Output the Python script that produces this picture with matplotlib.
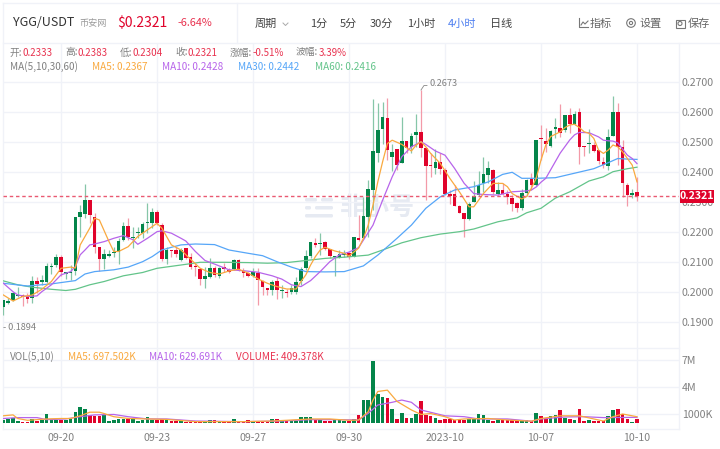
#!/usr/bin/env python3
"""YGG/USDT 4h candlestick chart with moving averages and volume panel."""

import matplotlib
matplotlib.use('Agg')
import matplotlib.pyplot as plt
from matplotlib.patches import Rectangle, Circle, FancyBboxPatch

plt.rcParams['font.family'] = ['Noto Sans CJK SC', 'DejaVu Sans']

opens = [.1949, .1965, .1974, .1986, .1990, .1985, .1979, .2037, .2032, .2035, .2085, .2090, .2118, .2060, .2062, .2070, .2249,
         .2259, .2307, .2251, .2149, .2110, .2120, .2129, .2135, .2174, .2220, .2181, .2196, .2198, .2229, .2229, .2268, .2224,
         .2109, .2140, .2140, .2107, .2146, .2116, .2087, .2077, .2045, .2049, .2081, .2054, .2083, .2074, .2076, .2107, .2071,
         .2063, .2054, .2063, .2037, .2014, .2007, .2037, .2003, .2001, .2001, .2001, .2038, .2079, .2121, .2164, .2161, .2167,
         .2144, .2116, .2116, .2124, .2129, .2118, .2181, .2179, .2251, .2340, .2465, .2543, .2579, .2451, .2476, .2429, .2504,
         .2484, .2525, .2534, .2479, .2423, .2412, .2432, .2406, .2326, .2326, .2287, .2264, .2243, .2301, .2325, .2362, .2390,
         .2406, .2328, .2340, .2326, .2312, .2296, .2279, .2329, .2377, .2357, .2515, .2505, .2488, .2545, .2548, .2540, .2590,
         .2560, .2601, .2486, .2493, .2490, .2473, .2433, .2421, .2520, .2600, .2484, .2356, .2325, .2333]
highs = [.1974, .1979, .2001, .2018, .1994, .1996, .2054, .2051, .2057, .2096, .2096, .2127, .2124, .2068, .2090, .2249, .2290,
         .2359, .2307, .2265, .2149, .2143, .2140, .2149, .2179, .2235, .2246, .2218, .2216, .2235, .2298, .2279, .2274, .2229,
         .2149, .2140, .2151, .2146, .2146, .2129, .2096, .2077, .2083, .2112, .2087, .2085, .2096, .2079, .2109, .2109, .2079,
         .2068, .2079, .2079, .2041, .2014, .2041, .2051, .2024, .2009, .2024, .2049, .2085, .2140, .2168, .2181, .2196, .2170,
         .2144, .2120, .2140, .2140, .2135, .2185, .2256, .2318, .2373, .2643, .2629, .2632, .2647, .2495, .2476, .2584, .2504,
         .2529, .2595, .2673, .2479, .2462, .2476, .2465, .2412, .2340, .2356, .2290, .2265, .2299, .2370, .2403, .2451, .2436,
         .2410, .2367, .2365, .2340, .2325, .2301, .2345, .2376, .2396, .2507, .2557, .2546, .2540, .2579, .2626, .2590, .2612,
         .2602, .2614, .2488, .2545, .2501, .2475, .2451, .2542, .2653, .2631, .2506, .2362, .2345, .2383]
lows = [.1924, .1960, .1971, .1985, .1954, .1965, .1963, .1996, .2024, .2029, .2060, .2085, .2054, .2043, .2040, .2056, .2185,
        .2246, .2229, .2129, .2070, .2076, .2116, .2118, .2094, .2171, .2174, .2146, .2179, .2179, .2196, .2212, .2224, .2105,
        .2094, .2116, .2116, .2105, .2109, .2077, .2054, .2024, .2012, .2046, .2051, .2046, .2068, .2063, .2074, .2071, .2051,
        .2049, .2051, .1957, .1990, .1990, .1990, .1976, .1979, .1985, .1994, .1994, .2024, .2074, .2112, .2149, .2124, .2140,
        .2112, .2055, .2112, .2116, .2109, .2116, .2171, .2179, .2184, .2273, .2434, .2495, .2440, .2403, .2406, .2429, .2462,
        .2462, .2484, .2451, .2306, .2384, .2395, .2392, .2323, .2292, .2287, .2262, .2182, .2240, .2299, .2321, .2334, .2365,
        .2328, .2323, .2325, .2295, .2270, .2267, .2273, .2320, .2340, .2355, .2440, .2468, .2485, .2513, .2518, .2532, .2529,
        .2557, .2426, .2453, .2462, .2467, .2426, .2415, .2406, .2520, .2423, .2317, .2286, .2312, .2304]
closes = [.1974, .1970, .1996, .1987, .1983, .1977, .2037, .2027, .2040, .2087, .2088, .2118, .2068, .2068, .2068, .2249, .2268,
          .2307, .2257, .2149, .2109, .2127, .2127, .2135, .2170, .2220, .2185, .2185, .2199, .2227, .2232, .2268, .2229, .2109,
          .2140, .2137, .2127, .2140, .2113, .2083, .2083, .2044, .2054, .2081, .2057, .2079, .2076, .2068, .2107, .2074, .2065,
          .2054, .2068, .2041, .2016, .2007, .2035, .2005, .2007, .1996, .2012, .2035, .2077, .2121, .2165, .2158, .2165, .2144,
          .2120, .2120, .2127, .2129, .2118, .2183, .2174, .2254, .2345, .2470, .2540, .2582, .2473, .2467, .2423, .2504, .2481,
          .2521, .2534, .2479, .2421, .2419, .2432, .2409, .2326, .2321, .2287, .2265, .2243, .2295, .2321, .2356, .2392, .2412,
          .2332, .2340, .2328, .2317, .2295, .2279, .2329, .2374, .2357, .2507, .2509, .2493, .2537, .2549, .2529, .2589, .2559,
          .2592, .2482, .2482, .2497, .2471, .2437, .2422, .2515, .2599, .2484, .2364, .2323, .2329, .2321]
volumes = [.33, .44, .6, .22, .15, .15, .5, .26, .3, 1.0, .37, .37, .37, .37, .5, 1.26, 1.8, 1.55, .9, .8, .8, .9, .25, .3, .5,
           .5, .45, .45, .2, .3, .65, .37, .3, .5, .3, .2, .2, .2, .15, .15, .12, .12, .12, .37, .3, .15, .12, .12, .4, .15, .12,
           .3, .15, .12, .12, .15, .45, .5, .3, .2, .2, .2, .65, .7, .7, .3, .33, .2, .2, .3, .3, .2, .2, .45, .9, 2.55, 2.55,
           6.9, 3.2, 2.9, 2.75, 1.6, .45, 1.1, .55, .55, .95, 2.45, .85, .8, .55, .37, .4, .5, .33, .3, .33, .45, .45, .95, .85,
           .3, .22, .37, .37, .3, .3, .2, .3, .3, .2, 1.1, .8, .45, .8, .85, 1.4, .6, .45, .3, 1.55, .2, .37, .2, .2, .2, .8,
           1.5, 1.55, .95, .45, .1, .41]

ma5_idx = [0, 2, 4, 6, 8, 10, 12, 14, 15, 16, 18, 19, 20, 22, 23, 24, 26, 28, 30, 32, 33, 35, 37, 39, 41, 43, 45, 47, 49, 51,
           53, 55, 57, 59, 61, 62, 63, 64, 65, 66, 67, 69, 71, 72, 74, 75, 76, 77, 78, 79, 80, 81, 83, 85, 86, 87, 88, 89, 91,
           93, 95, 97, 98, 99, 100, 102, 104, 105, 106, 108, 109, 110, 111, 112, 113, 114, 115, 116, 117, 118, 119, 120, 121,
           122, 123, 124, 125, 126, 127, 128, 129, 130, 131, 132]
ma5 = [.1990, .1970, .1985, .1990, .2009, .2035, .2079, .2083, .2080, .2157, .2213, .2246, .2240, .2168, .2135, .2135, .2151,
       .2185, .2207, .2229, .2213, .2157, .2140, .2109, .2079, .2065, .2060, .2070, .2076, .2063, .2044, .2029, .2018, .2010,
       .2010, .2035, .2057, .2090, .2118, .2140, .2149, .2137, .2129, .2120, .2146, .2179, .2223, .2290, .2367, .2434, .2495,
       .2506, .2492, .2470, .2490, .2501, .2484, .2462, .2429, .2379, .2334, .2284, .2284, .2306, .2328, .2362, .2362, .2351,
       .2328, .2310, .2318, .2346, .2379, .2440, .2490, .2518, .2526, .2534, .2548, .2557, .2559, .2548, .2534, .2529, .2512,
       .2473, .2462, .2473, .2490, .2484, .2467, .2445, .2423, .2367]
ma10_idx = [0, 2, 3, 5, 7, 8, 10, 12, 14, 15, 16, 17, 18, 19, 21, 23, 25, 27, 28, 30, 32, 33, 35, 37, 38, 40, 42, 44, 47, 50,
            53, 56, 58, 60, 62, 64, 66, 68, 70, 72, 74, 77, 79, 81, 83, 85, 87, 88, 90, 92, 94, 96, 98, 100, 103, 106, 109, 110,
            111, 112, 113, 114, 115, 116, 117, 118, 119, 120, 122, 124, 125, 126, 127, 128, 130, 131, 132]
ma10 = [.2029, .2001, .1990, .1985, .1987, .2001, .2024, .2057, .2068, .2085, .2124, .2140, .2157, .2160, .2168, .2179, .2188,
        .2174, .2159, .2179, .2201, .2204, .2196, .2179, .2170, .2135, .2105, .2093, .2074, .2071, .2066, .2054, .2043, .2024,
        .2018, .2038, .2068, .2101, .2124, .2133, .2148, .2223, .2306, .2384, .2451, .2484, .2501, .2492, .2470, .2456, .2412,
        .2362, .2328, .2325, .2323, .2334, .2337, .2340, .2350, .2366, .2379, .2407, .2435, .2463, .2485, .2507, .2524, .2532,
        .2531, .2517, .2506, .2504, .2503, .2497, .2456, .2445, .2428]
ma30_idx = [0, 5, 10, 15, 17, 19, 23, 26, 29, 31, 33, 35, 37, 40, 44, 47, 51, 54, 57, 60, 63, 67, 71, 75, 78, 82, 85, 88, 91, 94,
            98, 101, 104, 106, 108, 111, 115, 119, 123, 126, 128, 130, 132]
ma30 = [.2029, .2020, .2027, .2038, .2060, .2068, .2074, .2083, .2101, .2118, .2140, .2149, .2157, .2160, .2158, .2140, .2129,
        .2121, .2101, .2083, .2068, .2067, .2068, .2087, .2123, .2179, .2223, .2279, .2317, .2340, .2351, .2367, .2392, .2399,
        .2379, .2379, .2381, .2396, .2411, .2431, .2445, .2443, .2442]
ma60_idx = [0, 3, 6, 10, 13, 15, 18, 21, 25, 29, 32, 37, 41, 46, 51, 55, 59, 63, 67, 71, 76, 79, 83, 87, 91, 95, 98, 103, 107,
            109, 112, 115, 118, 122, 125, 127, 130, 132]
ma60 = [.2037, .2024, .2016, .2009, .2005, .2009, .2024, .2035, .2054, .2065, .2079, .2090, .2099, .2099, .2098, .2096, .2098,
        .2105, .2112, .2116, .2123, .2140, .2164, .2181, .2193, .2201, .2210, .2234, .2247, .2264, .2279, .2313, .2334, .2370,
        .2384, .2401, .2411, .2416]

vol_ma5_idx = [0, 2, 3, 5, 9, 12, 14, 16, 18, 20, 21, 23, 26, 30, 34, 40, 50, 56, 60, 64, 68, 72, 74, 76, 77, 78, 80, 82, 85, 87,
               89, 92, 94, 96, 101, 105, 110, 112, 116, 120, 123, 125, 127, 129, 132]
vol_ma5 = [.8, .9, .5, .3, .45, .5, .5, .8, 1.2, 1.2, 1.05, .7, .5, .45, .4, .15, .15, .22, .33, .45, .45, .3, .33, 1.25, 2.55,
           3.5, 3.65, 2.4, 1.45, .95, 1.05, .7, .33, .45, .5, .33, .2, .5, .8, .8, .45, .22, .7, 1.0, .7]
vol_ma10_idx = [0, 3, 7, 9, 13, 16, 19, 23, 26, 30, 34, 40, 50, 58, 64, 70, 74, 76, 78, 81, 83, 85, 87, 92, 96, 99, 105, 110, 112,
                117, 121, 125, 132]
vol_ma10 = [.5, .6, .6, .37, .45, .7, .9, .95, .7, .45, .45, .22, .15, .22, .37, .37, .33, 1.07, 2.0, 2.3, 2.55, 2.3, 1.45, .8,
            .7, .45, .45, .2, .45, .67, .7, .6, .63]

x_ticks = [12, 32, 52, 72, 92, 112, 132]
x_labels = ['09-20', '09-23', '09-27', '09-30', '2023-10', '10-07', '10-10']
price_ticks = [.19, .20, .21, .22, .23, .24, .25, .26, .27]
vol_ticks = [1, 4, 7]
vol_tick_labels = ['1000K', '4M', '7M']

GREEN = '#04854a'
RED = '#e0032b'
TEXT_RED = '#e8324f'
GREEN_WICK = '#86c6a8'
RED_WICK = '#f39aa8'
ORANGE = '#f9a93f'
PURPLE = '#b764ea'
BLUE = '#56a6f8'
LIME = '#63c48a'
GRID = '#f0f2f8'
GRAY = '#808080'
W, H = 720, 449


def pixel_axes(fig, left, top, right, bottom, **kw):
    return fig.add_axes([left / W, 1 - bottom / H, (right - left) / W, (bottom - top) / H], **kw)


def draw_background(ax):
    ax.set_xlim(0, W)
    ax.set_ylim(H, 0)
    ax.axis('off')
    for y in [3, 43, 348, 429]:
        ax.plot([3, 720 if y < 44 else 679], [y, y], color=GRID, lw=1)
    ax.plot([3, 3], [3, 429], color=GRID, lw=1)
    ax.plot([237, 237], [3, 43], color=GRID, lw=1)
    ax.plot([679, 679], [43, 429], color=GRID, lw=1)
    # watermark
    for y0, x0, w0 in [(198, 305, 12), (198, 321, 12), (206, 305, 6), (206, 315, 18), (214, 305, 28)]:
        ax.add_patch(FancyBboxPatch((x0, y0), w0, 3.5, boxstyle='round,pad=0,rounding_size=1.5',
                                    fc='#e6eaf2', ec='none'))
    ax.text(340, 208, '非小号', fontsize=18, weight='bold', color='#e6eaf2', va='center')


def draw_header(ax):
    ax.set_xlim(0, W)
    ax.set_ylim(H, 0)
    ax.axis('off')
    ax.text(13, 23, 'YGG/USDT', fontsize=9, color='#333333', va='center')
    ax.text(79, 23.5, '币安网', fontsize=6.6, color='#9a9a9a', va='center')
    ax.text(117, 23, '$0.2321', fontsize=10, color=RED, va='center')
    ax.text(177, 23.5, '-6.64%', fontsize=7.8, color=TEXT_RED, va='center')
    ax.text(255, 23.5, '周期', fontsize=8, color='#444444', va='center')
    ax.plot([283, 285.5, 288], [23, 25.5, 23], color='#aaaaaa', lw=0.7)
    for x, label, col in [(310, '1分', '#444444'), (340, '5分', '#444444'), (370, '30分', '#444444'),
                          (407, '1小时', '#444444'), (448, '4小时', '#4d7ef0'), (490, '日线', '#444444')]:
        ax.text(x, 23.5, label, fontsize=8, color=col, va='center')
    for x, label in [(590, '指标'), (639, '设置'), (688, '保存')]:
        ax.text(x, 23.5, label, fontsize=8, color='#666666', va='center')
    # toolbar icons
    ax.plot([579, 579, 588], [18, 27, 27], color='#777777', lw=0.8)
    ax.plot([581, 583, 585, 588], [25, 22, 24, 21], color='#777777', lw=0.8)
    ax.add_patch(Circle((631, 23), 4.3, fc='none', ec='#777777', lw=0.8))
    ax.add_patch(Circle((631, 23), 1.6, fc='none', ec='#777777', lw=0.8))
    ax.add_patch(Rectangle((675.5, 19.5), 9, 8, fc='none', ec='#777777', lw=0.8))
    ax.add_patch(Circle((680, 23.5), 2, fc='none', ec='#777777', lw=0.8))

    # OHLC row
    for x, label, value in [(10, '开:', '0.2333'), (65, '高:', '0.2383'), (120, '低:', '0.2304'), (175, '收:', '0.2321'),
                            (230, '涨幅:', '-0.51%'), (296, '波幅:', '3.39%')]:
        t = ax.text(x, 52.5, label, fontsize=7, color=GRAY, va='center')
        ax.annotate(value, xy=(1, 0.5), xycoords=t, va='center', fontsize=7, color=TEXT_RED)
    # MA row
    ax.text(10, 67, 'MA(5,10,30,60)', fontsize=7.2, color=GRAY, va='center')
    for x, label, col in [(92, 'MA5: 0.2367', ORANGE), (162, 'MA10: 0.2428', PURPLE),
                          (238, 'MA30: 0.2442', BLUE), (315, 'MA60: 0.2416', LIME)]:
        ax.text(x, 67, label, fontsize=7.2, color=col, va='center')
    # volume row
    ax.text(10, 357, 'VOL(5,10)', fontsize=7.2, color=GRAY, va='center')
    for x, label, col in [(68, 'MA5: 697.502K', ORANGE), (149, 'MA10: 629.691K', PURPLE),
                          (236, 'VOLUME: 409.378K', TEXT_RED)]:
        ax.text(x, 357, label, fontsize=7.2, color=col, va='center')
    # high / low marks and last price box
    ax.plot([421, 424, 427], [90, 85.5, 85.5], color='#888888', lw=0.6)
    ax.text(430, 84, '0.2673', fontsize=6.6, color=GRAY, va='center')
    ax.text(3, 328, '- 0.1894', fontsize=6.6, color=GRAY, va='center')
    ax.add_patch(Rectangle((680, 190), 34, 13, fc=RED, ec='none'))
    ax.text(697, 196.3, f'{closes[-1]:.4f}', fontsize=7.6, color='white', weight='bold', va='center', ha='center')


def draw_main():
    fig = plt.figure(figsize=(W / 100, H / 100), dpi=100, facecolor='white')
    bg = pixel_axes(fig, 0, 0, W, H, zorder=0)
    draw_background(bg)

    # index k sits at 3.4 + 4.8 * k px, price p at 82 + (0.27 - p) * 3000 px
    ax = pixel_axes(fig, 3, 43, 679, 348, zorder=1, facecolor='none')
    ax.set_xlim((3 - 3.4) / 4.8, (679 - 3.4) / 4.8)
    ax.set_ylim(0.27 - (348 - 82) / 3000, 0.27 + (82 - 43) / 3000)
    xs = range(len(closes))
    up = [c >= o for o, c in zip(opens, closes)]
    ax.vlines(xs, lows, highs, colors=[GREEN_WICK if u else RED_WICK for u in up], lw=0.9, zorder=2)
    ax.bar(xs, [max(abs(c - o), 0.0003) for o, c in zip(opens, closes)], bottom=[min(o, c) for o, c in zip(opens, closes)],
           width=0.72, color=[GREEN if u else RED for u in up], zorder=3)
    ax.plot(ma60_idx, ma60, color=LIME, lw=0.9, zorder=4)
    ax.plot(ma30_idx, ma30, color=BLUE, lw=0.9, zorder=4)
    ax.plot(ma10_idx, ma10, color=PURPLE, lw=0.9, zorder=4)
    ax.plot(ma5_idx, ma5, color=ORANGE, lw=0.9, zorder=5)
    ax.axhline(closes[-1], color='#ea5a72', lw=1.0, ls=(0, (2.5, 2)), zorder=6)
    ax.set_yticks(price_ticks)
    ax.set_yticklabels([f'{p:.4f}' for p in price_ticks])
    ax.yaxis.tick_right()
    ax.set_xticks(x_ticks)
    ax.set_xticklabels([])
    ax.tick_params(length=0, labelsize=7.6, labelcolor=GRAY, pad=2)
    ax.grid(True, color=GRID, lw=1)
    ax.set_axisbelow(True)
    for spine in ax.spines.values():
        spine.set_visible(False)

    # volume panel: 0 at 423 px, 9 px per million
    vol = pixel_axes(fig, 3, 348, 679, 429, zorder=1, facecolor='none')
    vol.set_xlim(ax.get_xlim())
    vol.set_ylim(-6 / 9, 75 / 9)
    vol.bar(xs, volumes, width=0.72, color=[GREEN if u else RED for u in up], zorder=3)
    vol.plot(vol_ma10_idx, vol_ma10, color=PURPLE, lw=0.9, zorder=4)
    vol.plot(vol_ma5_idx, vol_ma5, color=ORANGE, lw=0.9, zorder=5)
    vol.set_yticks(vol_ticks)
    vol.set_yticklabels(vol_tick_labels)
    vol.yaxis.tick_right()
    vol.set_xticks(x_ticks)
    vol.set_xticklabels(x_labels)
    vol.tick_params(length=0, labelsize=7.6, labelcolor=GRAY, pad=2)
    vol.tick_params(axis='x', pad=3)
    vol.grid(True, color=GRID, lw=1)
    vol.set_axisbelow(True)
    for spine in vol.spines.values():
        spine.set_visible(False)

    top = pixel_axes(fig, 0, 0, W, H, zorder=5, facecolor='none')
    draw_header(top)

    fig.savefig('out.png', dpi=100, facecolor='white')


if __name__ == "__main__":
    draw_main()
